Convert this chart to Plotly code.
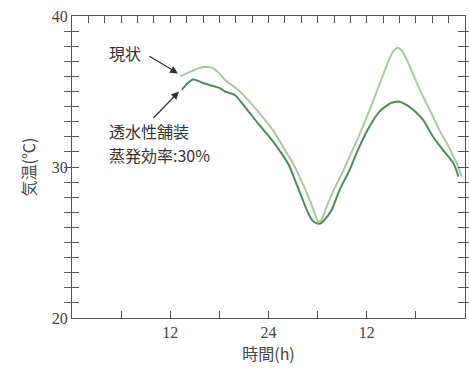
import plotly.graph_objects as go

# 現状 (current state)
hours_now = [13.2, 14.4, 15.5, 16.2, 17.2, 18.0, 18.7, 20.3, 21.9, 23.6, 24.8, 26.0, 27.0, 28.0,
             28.7, 29.4, 30.1, 30.5, 30.9, 31.9, 33.0, 34.0, 35.0, 36.0, 37.0, 38.0, 38.8, 39.3,
             39.8, 40.3, 40.9, 41.7, 42.5, 43.3, 44.1, 45.0, 45.8, 46.4, 47.0, 47.6]
temp_now = [36.0, 36.3, 36.55, 36.62, 36.55, 36.2, 35.76, 35.1, 34.2, 33.1, 32.23, 31.13, 30.25, 29.1,
            28.26, 27.3, 26.35, 26.5, 27.1, 28.4, 29.6, 30.8, 32.0, 33.3, 34.7, 36.1, 37.2, 37.7,
            37.9, 37.7, 37.1, 36.1, 35.1, 34.2, 33.33, 32.3, 31.57, 30.9, 30.25, 29.36]

# 透水性舗装 蒸発効率:30%
hours_pp = [13.4, 14.1, 14.8, 15.4, 16.0, 17.0, 18.1, 18.7, 19.9, 21.1, 22.7, 24.4, 25.6, 26.2,
            26.6, 27.4, 28.2, 28.8, 29.3, 29.9, 30.3, 31.0, 31.7, 32.7, 33.9, 34.9, 36.1,
            36.8, 37.6, 38.4, 39.0, 39.6, 40.0, 40.9, 41.7, 42.9, 44.1, 45.3, 46.6, 47.2]
temp_pp = [35.1, 35.55, 35.8, 35.7, 35.56, 35.4, 35.21, 35.0, 34.77, 34.0, 32.9, 31.8, 30.9, 30.4,
           30.0, 28.9, 27.8, 27.0, 26.5, 26.27, 26.25, 26.6, 27.15, 28.5, 29.8, 31.1, 32.45,
           33.1, 33.7, 34.05, 34.25, 34.32, 34.32, 34.1, 33.77, 33.1, 32.0, 31.13, 30.25, 29.36]

x_tickvals = [6, 12, 18, 24, 30, 36, 42]
x_ticktext = ["", "12", "", "24", "", "12", ""]
top_tickvals = list(range(2, 48, 2))
y_tickvals = list(range(20, 41))
y_ticktext = [str(v) if v % 10 == 0 else "" for v in y_tickvals]

axis_color = "#555555"
serif = "Liberation Serif"
cjk = "Noto Sans CJK JP"

fig = go.Figure()
fig.add_trace(go.Scatter(x=hours_now, y=temp_now, mode="lines",
                         line=dict(color="#a9c9a3", width=2, shape="spline", smoothing=0.5),
                         showlegend=False, hoverinfo="skip"))
fig.add_trace(go.Scatter(x=hours_pp, y=temp_pp, mode="lines",
                         line=dict(color="#4f8a5c", width=2, shape="spline", smoothing=0.5),
                         showlegend=False, hoverinfo="skip"))
# invisible trace to anchor the top axis
fig.add_trace(go.Scatter(x=[0, 48], y=[20, 20], xaxis="x2", mode="lines",
                         line=dict(width=0), showlegend=False, hoverinfo="skip", opacity=0))

fig.update_layout(
    width=469, height=370,
    margin=dict(l=72, r=4, t=16, b=52),
    paper_bgcolor="white", plot_bgcolor="white",
    xaxis=dict(range=[0, 48], tickvals=x_tickvals, ticktext=x_ticktext,
               ticks="inside", ticklen=7, tickcolor=axis_color, tickwidth=1,
               showline=True, linecolor=axis_color, linewidth=1.2,
               showgrid=False, zeroline=False,
               tickfont=dict(family=serif, size=16, color="#444444"),
               title=dict(text="時間(h)", font=dict(family=cjk, size=16, color="#444444"), standoff=4)),
    xaxis2=dict(range=[0, 48], overlaying="x", side="top", tickvals=top_tickvals,
                ticks="inside", ticklen=7, tickcolor=axis_color, tickwidth=1,
                showticklabels=False, showline=True, linecolor=axis_color, linewidth=1.2,
                showgrid=False, zeroline=False),
    yaxis=dict(range=[20, 40], tickvals=y_tickvals, ticktext=y_ticktext,
               ticks="inside", ticklen=7, tickcolor=axis_color, tickwidth=1,
               showline=True, linecolor=axis_color, linewidth=1.2, mirror="allticks",
               showgrid=False, zeroline=False,
               tickfont=dict(family=serif, size=16, color="#444444"),
               title=dict(text="気温(℃)", font=dict(family=cjk, size=16, color="#444444"), standoff=12)),
)

ann_font = dict(family=cjk, size=16, color="#333333")
fig.add_annotation(x=12.94, y=36.2, xref="x", yref="y", text="", showarrow=True,
                   ax=-30, ay=-18, arrowhead=2, arrowsize=1.3, arrowwidth=1.2, arrowcolor="#333333")
fig.add_annotation(x=13.07, y=35.0, xref="x", yref="y", text="", showarrow=True,
                   ax=-27, ay=28, arrowhead=2, arrowsize=1.3, arrowwidth=1.2, arrowcolor="#333333")
fig.add_annotation(x=0.135, y=0.877, xref="paper", yref="paper", text="現状", showarrow=False,
                   font=ann_font, xanchor="center", yanchor="middle")
fig.add_annotation(x=0.088, y=0.619, xref="paper", yref="paper", text="透水性舗装",
                   showarrow=False, font=ann_font, xanchor="left", yanchor="middle")
fig.add_annotation(x=0.088, y=0.540, xref="paper", yref="paper", text="蒸発効率:30%",
                   showarrow=False, font=ann_font, xanchor="left", yanchor="middle")

fig.write_html("out.html")
